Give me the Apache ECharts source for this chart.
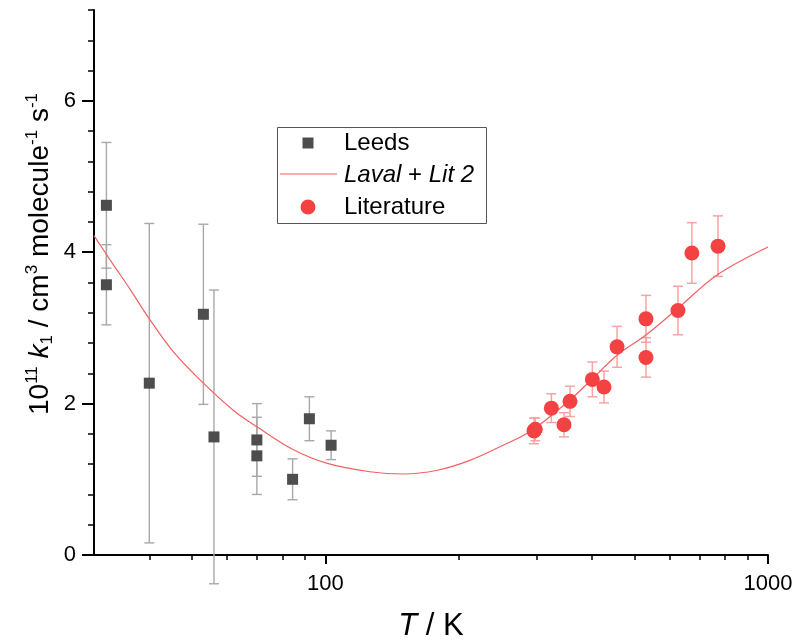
<!DOCTYPE html>
<html>
<head>
<meta charset="utf-8">
<script src="https://cdn.jsdelivr.net/npm/echarts@6/dist/echarts.min.js"></script>
<style>
  html, body { margin: 0; padding: 0; background: #ffffff; }
  #chart { width: 797px; height: 640px; }
</style>
</head>
<body>
<div id="chart"></div>
<script>
// Leeds measurements: temperature (K), rate coefficient (1e-11 cm3 molecule-1 s-1), error
const leedsT   = [32, 32, 40, 53, 56, 70, 70, 84.3, 92, 103];
const leedsK   = [4.62, 3.57, 2.27, 3.18, 1.56, 1.52, 1.31, 1.00, 1.80, 1.45];
const leedsErr = [0.83, 0.53, 2.11, 1.19, 1.94, 0.48, 0.51, 0.27, 0.29, 0.19];

// Literature values
const litT   = [296, 298, 324, 346, 357, 401, 426, 456, 530, 530, 626, 673, 771];
const litK   = [1.64, 1.66, 1.94, 1.72, 2.03, 2.32, 2.22, 2.75, 3.12, 2.61, 3.23, 3.99, 4.08];
const litErr = [0.17, 0.15, 0.19, 0.16, 0.20, 0.23, 0.21, 0.27, 0.31, 0.26, 0.32, 0.40, 0.40];

// Fitted curve (Laval + Lit 2)
const fitT = [30, 32.7, 36.3, 39.9, 45.4, 53, 62, 70.2, 84.7, 101, 126, 150, 179, 212, 252, 290, 357, 403, 456, 528, 626, 767, 1000];
const fitK = [4.22, 3.89, 3.50, 3.13, 2.68, 2.27, 1.91, 1.69, 1.39, 1.21, 1.10, 1.07, 1.12, 1.25, 1.45, 1.63, 2.05, 2.34, 2.64, 2.90, 3.26, 3.70, 4.07];

// Axis ticks
const xMajorTicks = [100, 1000];
const xMinorTicks = [40, 50, 60, 70, 80, 90, 200, 300, 400, 500, 600, 700, 800, 900];
const yMajorTicks = [0, 2, 4, 6];

const FONT = 'Liberation Sans, Arial, Helvetica, sans-serif';
const GREY = '#4d4d4d';
const RED = '#f44242';
const FIT = '#f46060';

function errorBars(name, T, K, E, color, width, capHalf) {
  return {
    type: 'custom',
    name: name,
    xAxisIndex: 0,
    yAxisIndex: 0,
    clip: false,
    silent: true,
    z: 1,
    data: T.map((t, i) => [t, K[i] - E[i], K[i] + E[i]]),
    encode: { x: 0, y: [1, 2] },
    renderItem: function (params, api) {
      const lo = api.coord([api.value(0), api.value(1)]);
      const hi = api.coord([api.value(0), api.value(2)]);
      const st = { stroke: color, lineWidth: width };
      return {
        type: 'group',
        children: [
          { type: 'line', shape: { x1: lo[0], y1: lo[1], x2: hi[0], y2: hi[1] }, style: st },
          { type: 'line', shape: { x1: lo[0] - capHalf, y1: lo[1], x2: lo[0] + capHalf, y2: lo[1] }, style: st },
          { type: 'line', shape: { x1: hi[0] - capHalf, y1: hi[1], x2: hi[0] + capHalf, y2: hi[1] }, style: st }
        ]
      };
    }
  };
}

const chart = echarts.init(document.getElementById('chart'), null, { renderer: 'canvas' });

const option = {
  animation: false,
  backgroundColor: '#ffffff',
  grid: { left: 94, right: 29, top: 10, bottom: 85, containLabel: false, outerBoundsMode: 'none' },
  xAxis: [
    {
      type: 'log', logBase: 10, min: 30, max: 1000, position: 'bottom',
      axisLine: { show: true, onZero: false, lineStyle: { color: '#000', width: 2 } },
      axisTick: { show: true, customValues: xMajorTicks, length: 9, lineStyle: { color: '#000', width: 2 } },
      axisLabel: {
        customValues: xMajorTicks, margin: 18, fontSize: 22, color: '#000', fontFamily: FONT,
        formatter: function (v) { return String(Math.round(v)); }
      },
      splitLine: { show: false },
      minorTick: { show: false },
      name: '{it|T}{n| / K}',
      nameLocation: 'middle',
      nameGap: 56,
      nameTextStyle: {
        rich: {
          it: { fontSize: 31, fontStyle: 'italic', fontFamily: FONT, color: '#000' },
          n: { fontSize: 31, fontFamily: FONT, color: '#000' }
        }
      }
    },
    {
      type: 'log', logBase: 10, min: 30, max: 1000, position: 'bottom',
      axisLine: { show: false, onZero: false },
      axisTick: { show: true, customValues: xMinorTicks, length: 5, lineStyle: { color: '#000', width: 1.5 } },
      axisLabel: { show: false },
      splitLine: { show: false }
    }
  ],
  yAxis: [
    {
      type: 'value', min: 0, max: 7.2, interval: 0.4, position: 'left',
      axisLine: { show: true, lineStyle: { color: '#000', width: 2 } },
      axisTick: { show: true, length: 6, lineStyle: { color: '#000', width: 1.5 } },
      axisLabel: { customValues: yMajorTicks, margin: 18, fontSize: 22, color: '#000', fontFamily: FONT },
      splitLine: { show: false }
    },
    {
      type: 'value', min: 0, max: 7.2, position: 'left',
      axisLine: { show: false },
      axisTick: { show: true, customValues: yMajorTicks, length: 12, lineStyle: { color: '#000', width: 2 } },
      axisLabel: { show: false },
      splitLine: { show: false }
    }
  ],
  series: [
    errorBars('Leeds error', leedsT, leedsK, leedsErr, '#a8a8a8', 1.4, 5),
    errorBars('Literature error', litT, litK, litErr, '#f8a3a3', 1.5, 5),
    {
      type: 'line', name: 'Laval + Lit 2',
      data: fitT.map((t, i) => [t, fitK[i]]),
      showSymbol: false, smooth: 0.35, z: 2,
      lineStyle: { color: FIT, width: 1.2 }
    },
    {
      type: 'scatter', name: 'Leeds',
      data: leedsT.map((t, i) => [t, leedsK[i]]),
      symbol: 'rect', symbolSize: 11, z: 3,
      itemStyle: { color: GREY, opacity: 1 }
    },
    {
      type: 'scatter', name: 'Literature',
      data: litT.map((t, i) => [t, litK[i]]),
      symbol: 'circle', symbolSize: 15, z: 3,
      itemStyle: { color: RED, opacity: 1 }
    }
  ],
  graphic: [
    {
      type: 'text', x: 40, y: 254, rotation: Math.PI / 2, z: 100,
      style: {
        text: '{n|10}{sup|11}{n| }{it|k}{sub|1}{n| / cm}{sup|3}{n| molecule}{sup|-1}{n| s}{sup|-1}',
        align: 'center', verticalAlign: 'middle',
        textAlign: 'center', textVerticalAlign: 'middle',
        rich: {
          n: { fontSize: 28, fontFamily: FONT, fill: '#000', color: '#000', lineHeight: 32 },
          it: { fontSize: 28, fontStyle: 'italic', fontFamily: FONT, fill: '#000', color: '#000', lineHeight: 32 },
          sup: { fontSize: 17, fontFamily: FONT, fill: '#000', color: '#000', lineHeight: 18, verticalAlign: 'top' },
          sub: { fontSize: 17, fontFamily: FONT, fill: '#000', color: '#000', lineHeight: 18, verticalAlign: 'bottom' }
        }
      }
    },
    {
      type: 'group', z: 100,
      children: [
        { type: 'rect', shape: { x: 277.5, y: 127.5, width: 209, height: 96 }, style: { fill: '#fff', stroke: '#555', lineWidth: 1 } },
        { type: 'rect', shape: { x: 302.5, y: 137.5, width: 11, height: 11 }, style: { fill: GREY } },
        { type: 'line', shape: { x1: 280, y1: 174, x2: 337, y2: 174 }, style: { stroke: FIT, lineWidth: 1.2 } },
        { type: 'circle', shape: { cx: 308, cy: 207, r: 7.5 }, style: { fill: RED } },
        { type: 'text', x: 344, y: 143, style: { text: 'Leeds', font: '24px ' + FONT, fill: '#000', verticalAlign: 'middle', textVerticalAlign: 'middle' } },
        {
          type: 'text', x: 344, y: 175,
          style: {
            text: '{it|Laval}{n| + }{it|Lit 2}', verticalAlign: 'middle', textVerticalAlign: 'middle',
            rich: {
              it: { fontSize: 24, fontStyle: 'italic', fontFamily: FONT, fill: '#000', color: '#000' },
              n: { fontSize: 24, fontFamily: FONT, fill: '#000', color: '#000' }
            }
          }
        },
        { type: 'text', x: 344, y: 207, style: { text: 'Literature', font: '24px ' + FONT, fill: '#000', verticalAlign: 'middle', textVerticalAlign: 'middle' } }
      ]
    }
  ]
};

chart.setOption(option);
</script>
</body>
</html>
